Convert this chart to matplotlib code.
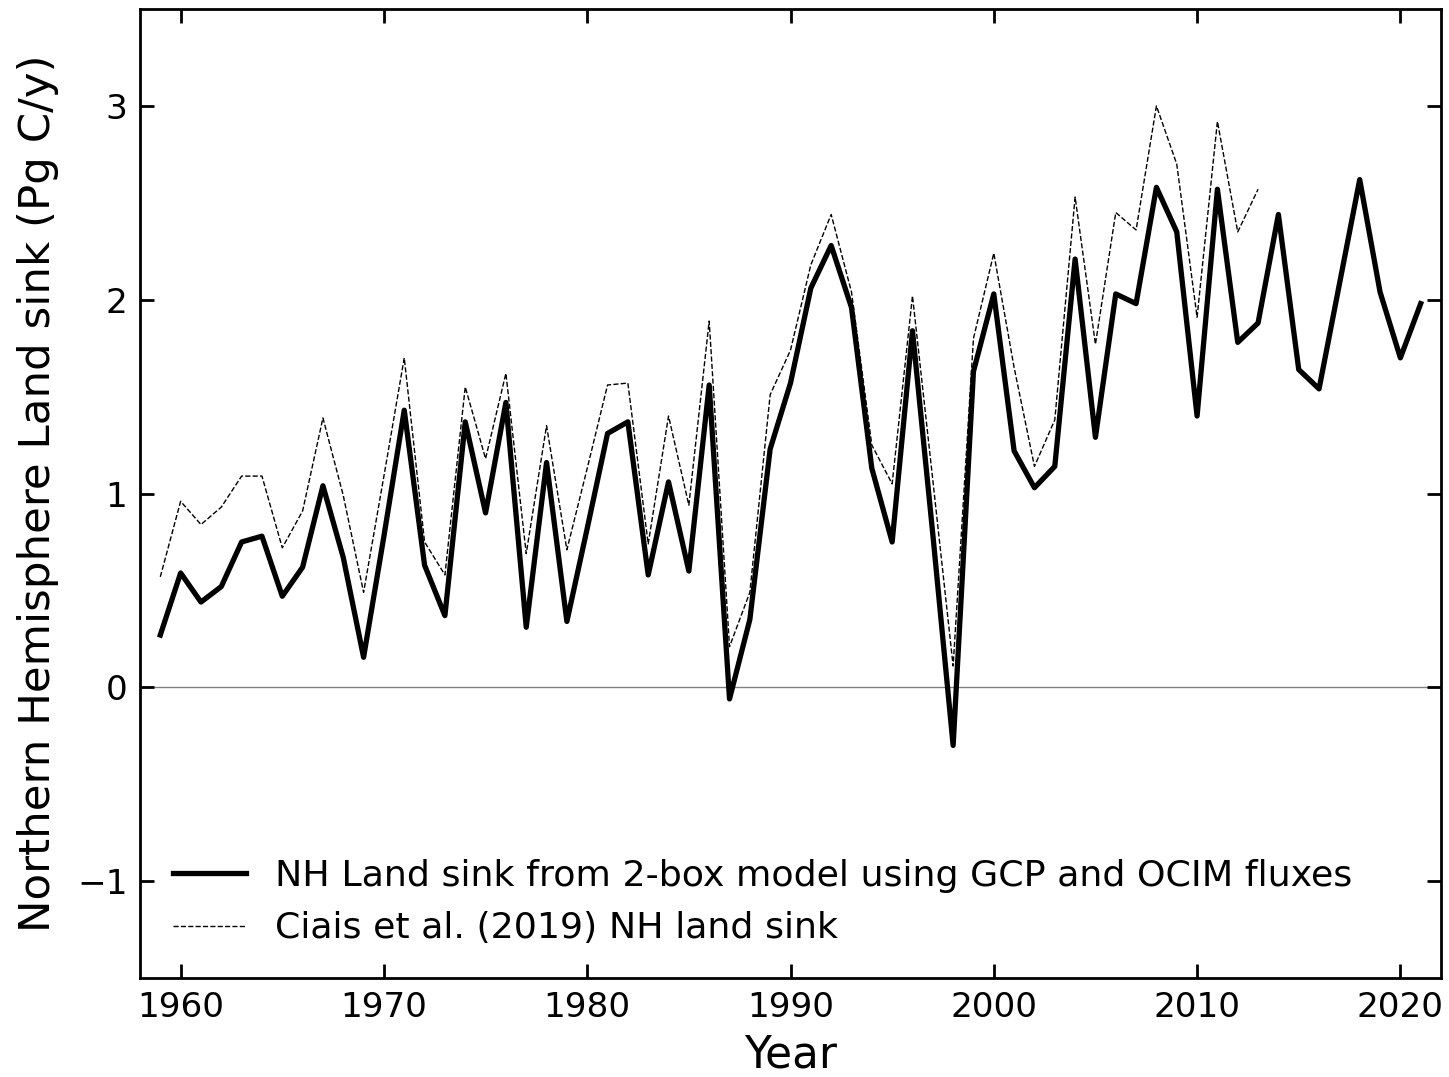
import matplotlib
matplotlib.use("Agg")
import matplotlib.pyplot as plt

# Años del modelo de 2 cajas (1959-2021)
anios_modelo = list(range(1959, 2022))
sumidero_modelo = [
    0.27, 0.59, 0.44, 0.52, 0.75, 0.78, 0.47, 0.62, 1.04, 0.67,
    0.155, 0.78, 1.43, 0.63, 0.37, 1.37, 0.90, 1.47, 0.31, 1.16,
    0.34, 0.82, 1.31, 1.37, 0.58, 1.06, 0.60, 1.56, -0.06, 0.35,
    1.23, 1.57, 2.06, 2.28, 1.96, 1.13, 0.75, 1.84, 0.79, -0.30,
    1.63, 2.03, 1.22, 1.03, 1.14, 2.21, 1.29, 2.03, 1.98, 2.58,
    2.35, 1.40, 2.57, 1.78, 1.88, 2.44, 1.64, 1.54, 2.08, 2.62,
    2.04, 1.70, 1.98,
]

# Años de Ciais et al. (2019), 1959-2013
anios_ciais = list(range(1959, 2014))
sumidero_ciais = [
    0.57, 0.96, 0.84, 0.93, 1.09, 1.09, 0.72, 0.91, 1.39, 0.99,
    0.49, 1.09, 1.70, 0.75, 0.58, 1.55, 1.18, 1.62, 0.69, 1.35,
    0.71, 1.13, 1.56, 1.57, 0.74, 1.40, 0.94, 1.89, 0.21, 0.49,
    1.51, 1.74, 2.18, 2.44, 2.04, 1.25, 1.05, 2.02, 1.07, 0.11,
    1.80, 2.24, 1.65, 1.14, 1.38, 2.53, 1.77, 2.45, 2.36, 3.00,
    2.70, 1.91, 2.92, 2.35, 2.57,
]

etiqueta_modelo = "NH Land sink from 2-box model using GCP and OCIM fluxes"
etiqueta_ciais = "Ciais et al. (2019) NH land sink"

fig = plt.figure(figsize=(14.49, 10.77), dpi=100)
ax = fig.add_axes([0.0966, 0.0919, 0.8979, 0.8997])

ax.axhline(0, color="gray", linewidth=1.0, zorder=1)
ax.plot(anios_modelo, sumidero_modelo, color="black", linewidth=3.8,
        label=etiqueta_modelo, zorder=3)
ax.plot(anios_ciais, sumidero_ciais, color="black", linewidth=1.0,
        linestyle="--", label=etiqueta_ciais, zorder=2)

ax.set_xlim(1958, 2022)
ax.set_ylim(-1.5, 3.5)
ax.set_xticks([1960, 1970, 1980, 1990, 2000, 2010, 2020])
ax.set_yticks([-1, 0, 1, 2, 3])

ax.tick_params(direction="in", top=True, right=True, length=10, width=2,
               labelsize=24.7, pad=9)
for spine in ax.spines.values():
    spine.set_linewidth(2)

ax.set_xlabel("Year", fontsize=31.5, labelpad=7)
ax.set_ylabel("Northern Hemisphere Land sink (Pg C/y)", fontsize=31.3,
              labelpad=13)

ax.legend(loc="lower left", frameon=False, fontsize=26.2, handlelength=2.0)

fig.savefig("out.png", dpi=100)
